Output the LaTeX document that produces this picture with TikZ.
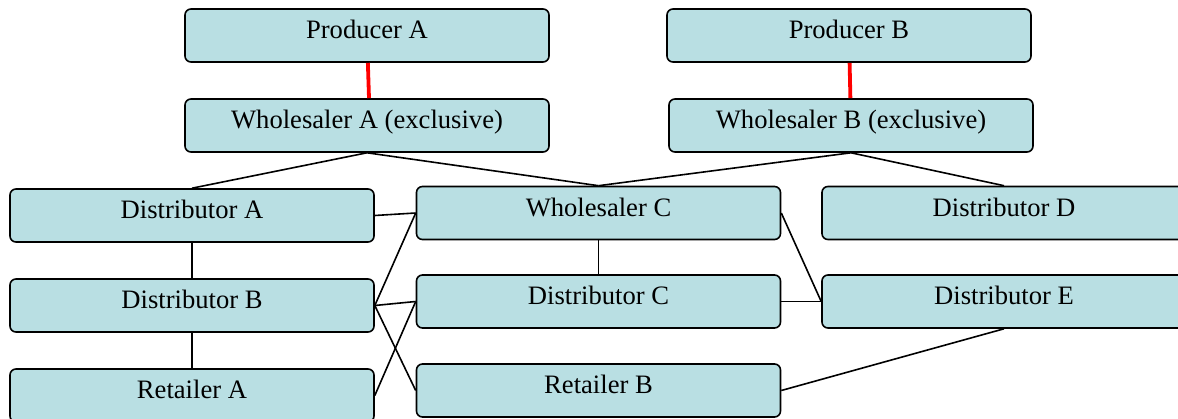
\documentclass[tikz,border=0pt]{standalone}
\usepackage{fontspec}
\setmainfont{Liberation Serif}
\definecolor{boxfill}{RGB}{185,223,227}
\tikzset{
	box/.style={draw, line width=1.6pt, rounded corners=6pt, fill=boxfill,
		minimum width=364pt, minimum height=53pt, inner sep=2pt,
		text height=19pt, text depth=12pt, font=\fontsize{26.6}{30}\selectfont},
	link/.style={line width=1.6pt},
	excl/.style={line width=3.8pt, red}
}
\begin{document}
\begin{tikzpicture}[x=1pt, y=-1pt]
			\clip (0, 0) rectangle (1178, 419);
			\node[box] (P_A) at (367, 35.5) {Producer A};
			\node[box] (P_B) at (849, 35.5) {Producer B};
			\node[box] (W_A) at (367, 125.5) {Wholesaler A (exclusive)};
			\node[box] (W_B) at (851, 125.5) {Wholesaler B (exclusive)};
			\node[box] (D_A) at (192, 215.5) {Distributor A};
			\node[box] (W_C) at (598.5, 213) {Wholesaler C};
			\node[box] (D_D) at (1004, 213) {Distributor D};
			\node[box] (D_B) at (192, 305.5) {Distributor B};
			\node[box] (D_C) at (598.5, 301.5) {Distributor C};
			\node[box] (D_E) at (1004, 301.5) {Distributor E};
			\node[box] (R_A) at (192, 395.5) {Retailer A};
			\node[box] (R_B) at (598.5, 390.5) {Retailer B};
			\draw[excl] (P_A) -- ([xshift=2pt]W_A.north);
			\draw[excl] (P_B) -- (W_B);
			\draw[link] (W_A.south) -- (D_A.north);
			\draw[link] (W_A.south) -- (W_C.north);
			\draw[link] (W_B.south) -- (W_C.north);
			\draw[link] (W_B.south) -- (D_D.north);
			\draw[link] (D_A.east) -- (W_C.west);
			\draw[link] (D_A) -- (D_B);
			\draw[link] (D_B) -- (R_A);
			\draw[link] (D_B.east) -- (W_C.west);
			\draw[link] (D_B.east) -- (D_C.west);
			\draw[link] (D_B.east) -- (R_B.west);
			\draw[link] (R_A.east) -- (D_C.west);
			\draw[link] (W_C) -- (D_C);
			\draw[link] (W_C.east) -- (D_E.west);
			\draw[link] (D_C.east) -- (D_E.west);
			\draw[link] (R_B.east) -- (D_E.south);
		\end{tikzpicture}
\end{document}
